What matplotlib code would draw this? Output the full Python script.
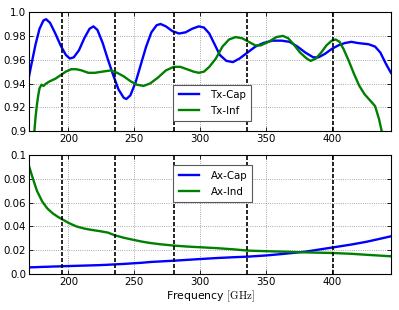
import matplotlib
matplotlib.use('Agg')
import matplotlib.pyplot as plt

# band edges / centres marked with dashed lines
bands = [195, 235, 280, 336, 401]

# transmission, capacitive and inductive grids
tx_freq = [170, 172, 175, 178, 181, 183, 186, 190, 194, 198, 201, 204, 208, 212, 216,
           219, 222, 226, 230, 234, 238, 242, 244, 247, 251, 255, 259, 263, 267, 270,
           274, 279, 284, 289, 294, 299, 303, 307, 311, 315, 320, 325, 330, 336, 342,
           348, 355, 362, 368, 374, 380, 386, 390, 395, 400, 405, 410, 415, 420, 428,
           433, 437, 441, 445]
tx_cap = [0.946, 0.957, 0.973, 0.986, 0.993, 0.994, 0.991, 0.982, 0.972, 0.964, 0.961,
          0.962, 0.968, 0.978, 0.986, 0.988, 0.985, 0.974, 0.960, 0.947, 0.935, 0.928,
          0.927, 0.930, 0.941, 0.956, 0.971, 0.983, 0.989, 0.990, 0.988, 0.984, 0.982,
          0.983, 0.986, 0.988, 0.987, 0.982, 0.973, 0.964, 0.959, 0.958, 0.961, 0.966,
          0.971, 0.974, 0.976, 0.976, 0.975, 0.971, 0.966, 0.962, 0.962, 0.965, 0.969,
          0.972, 0.974, 0.975, 0.974, 0.973, 0.971, 0.966, 0.957, 0.949]

tx_freq2 = [174, 175, 176, 177, 178, 179.5, 181, 183, 186, 190, 194, 198, 202, 206, 210,
            215, 220, 226, 232, 237, 242, 247, 252, 257, 262, 268, 274, 280, 285, 290,
            295, 299, 303, 307, 312, 317, 322, 327, 332, 337, 342, 346, 352, 358, 363,
            367, 371, 376, 381, 384, 388, 392, 396, 400, 403, 406, 409, 413, 417, 421,
            425, 429, 433, 436, 438, 440]
tx_ind = [0.899, 0.912, 0.922, 0.930, 0.936, 0.939, 0.938, 0.940, 0.942, 0.944, 0.947,
          0.950, 0.952, 0.952, 0.951, 0.949, 0.949, 0.950, 0.951, 0.949, 0.946, 0.942,
          0.939, 0.938, 0.940, 0.945, 0.951, 0.954, 0.954, 0.952, 0.950, 0.949, 0.950,
          0.954, 0.961, 0.971, 0.977, 0.979, 0.978, 0.975, 0.972, 0.972, 0.975, 0.979,
          0.980, 0.978, 0.973, 0.966, 0.961, 0.959, 0.961, 0.966, 0.972, 0.976, 0.977,
          0.975, 0.969, 0.959, 0.948, 0.938, 0.931, 0.926, 0.921, 0.910, 0.900, 0.890]

# absorption
ax_freq = [170, 173, 176, 180, 184, 188, 192, 196, 200, 206, 212, 218, 224, 230, 235,
           242, 249, 256, 262, 270, 280, 290, 300, 312, 325, 336, 350, 363, 380, 400,
           415, 426, 435, 445]
ax_cap = [0.0056, 0.0057, 0.0058, 0.0060, 0.0061, 0.0063, 0.0064, 0.0066, 0.0067, 0.0069,
          0.0071, 0.0073, 0.0075, 0.0078, 0.0081, 0.0085, 0.0090, 0.0095, 0.0101, 0.0106,
          0.0112, 0.0119, 0.0126, 0.0134, 0.0141, 0.0146, 0.0156, 0.0169, 0.0188, 0.0222,
          0.0248, 0.0270, 0.0292, 0.0317]
ax_ind = [0.0907, 0.0800, 0.0700, 0.0610, 0.0550, 0.0510, 0.0480, 0.0455, 0.0430, 0.0400,
          0.0382, 0.0370, 0.0360, 0.0348, 0.0326, 0.0305, 0.0288, 0.0272, 0.0261, 0.0250,
          0.0239, 0.0231, 0.0225, 0.0218, 0.0208, 0.0197, 0.0192, 0.0188, 0.0182, 0.0177,
          0.0170, 0.0162, 0.0156, 0.0149]

xticks = [200, 250, 300, 350, 400]
top_yticks = [0.9, 0.92, 0.94, 0.96, 0.98, 1.0]
top_ylabels = ['0.9', '0.92', '0.94', '0.96', '0.98', '1.0']
bot_yticks = [0.0, 0.02, 0.04, 0.06, 0.08, 0.1]
bot_ylabels = ['0.0', '0.02', '0.04', '0.06', '0.08', '0.1']

plt.rcParams['mathtext.fontset'] = 'cm'
fs = 7.4

fig = plt.figure(figsize=(3.99, 3.10), dpi=100)
ax1 = fig.add_axes([0.0727, 0.577, 0.907, 0.384])
ax2 = fig.add_axes([0.0727, 0.116, 0.907, 0.384])

ax1.plot(tx_freq, tx_cap, color='blue', lw=1.7, label='Tx-Cap')
ax1.plot(tx_freq2, tx_ind, color='green', lw=1.7, label='Tx-Inf')
ax2.plot(ax_freq, ax_cap, color='blue', lw=1.7, label='Ax-Cap')
ax2.plot(ax_freq, ax_ind, color='green', lw=1.7, label='Ax-Ind')

for ax, yt, yl in [(ax1, top_yticks, top_ylabels), (ax2, bot_yticks, bot_ylabels)]:
    for b in bands:
        ax.axvline(b, color='black', lw=1.2, ls=(0, (2.4, 1.2)), zorder=3)
    ax.set_xlim(170, 445)
    ax.set_ylim(yt[0], yt[-1])
    ax.set_xticks(xticks)
    ax.set_xticklabels([str(t) for t in xticks], fontsize=fs)
    ax.set_yticks(yt)
    ax.set_yticklabels(yl, fontsize=fs)
    ax.grid(True, color='0.55', ls=':', lw=0.6)
    ax.tick_params(direction='in', length=3, width=0.6, top=True, right=True, pad=2)
    for s in ax.spines.values():
        s.set_linewidth(0.8)

leg_kw = dict(fontsize=fs, fancybox=False, edgecolor='0.35', framealpha=1,
              handlelength=2.0, handletextpad=1.1, borderpad=0.5, labelspacing=0.6)
leg1 = ax1.legend(loc='lower left', bbox_to_anchor=(0.385, 0.042), **leg_kw)
leg2 = ax2.legend(loc='upper left', bbox_to_anchor=(0.385, 0.955), **leg_kw)
for leg in (leg1, leg2):
    leg.get_frame().set_linewidth(0.8)

ax2.set_xlabel(r'Frequency $[\mathrm{GHz}]$', fontsize=fs + 0.4, labelpad=1)

fig.savefig('out.png', dpi=100)
